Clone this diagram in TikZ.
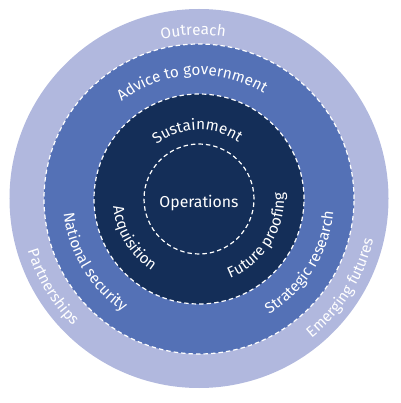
\documentclass[tikz,border=0pt]{standalone}
\usepackage{fontspec}
\setmainfont{Fira Sans}
\usetikzlibrary{decorations.text}
\definecolor{ringlight}{RGB}{177,184,222}
\definecolor{ringmid}{RGB}{84,113,182}
\definecolor{ringdark}{RGB}{20,46,88}
\begin{document}
\begin{tikzpicture}[x=1pt,y=1pt,
  ringdash/.style={draw=white, line width=1.2pt, dash pattern=on 4.5pt off 3pt},
  arctext/.style={decorate, decoration={text along path, text align=center, text color=white,
     text={|\fontsize{15.3}{17}\selectfont|#1}}}]
\useasboundingbox (-199,-204) rectangle (201,199);
% rings
\fill[ringlight] (0,0.5) circle[radius=189.5];
\fill[ringmid] (0,0) circle[radius=155];
\draw[ringdash] (0,0) circle[radius=155];
\fill[ringdark] (0,0) circle[radius=105];
\draw[ringdash] (0,0) circle[radius=105];
\draw[ringdash] (0,0) circle[radius=55];
% centre
\node[text=white, font=\fontsize{15.8}{18}\selectfont, anchor=base] (ops) at (0,-9) {Operations};
% top texts (clockwise)
\path[arctext=Outreach] (152:164) arc[start angle=152, end angle=32, radius=164];
\path[arctext=Advice to government] (163.5:124) arc[start angle=163.5, end angle=23.5, radius=124];
\path[arctext=Sustainment] (161.5:69) arc[start angle=161.5, end angle=21.5, radius=69];
% lower texts (counterclockwise)
\path[arctext=Acquisition] (151:86) arc[start angle=151, end angle=271, radius=86];
\path[arctext=Future proofing] (-92:85) arc[start angle=-92, end angle=28, radius=85];
\path[arctext=National security] (151:136) arc[start angle=151, end angle=271, radius=136];
\path[arctext=Strategic research] (-92:135) arc[start angle=-92, end angle=28, radius=135];
\path[arctext=Partnerships] (151:179) arc[start angle=151, end angle=271, radius=179];
\path[arctext=Emerging futures] (-92:179) arc[start angle=-92, end angle=28, radius=179];
\end{tikzpicture}
\end{document}
